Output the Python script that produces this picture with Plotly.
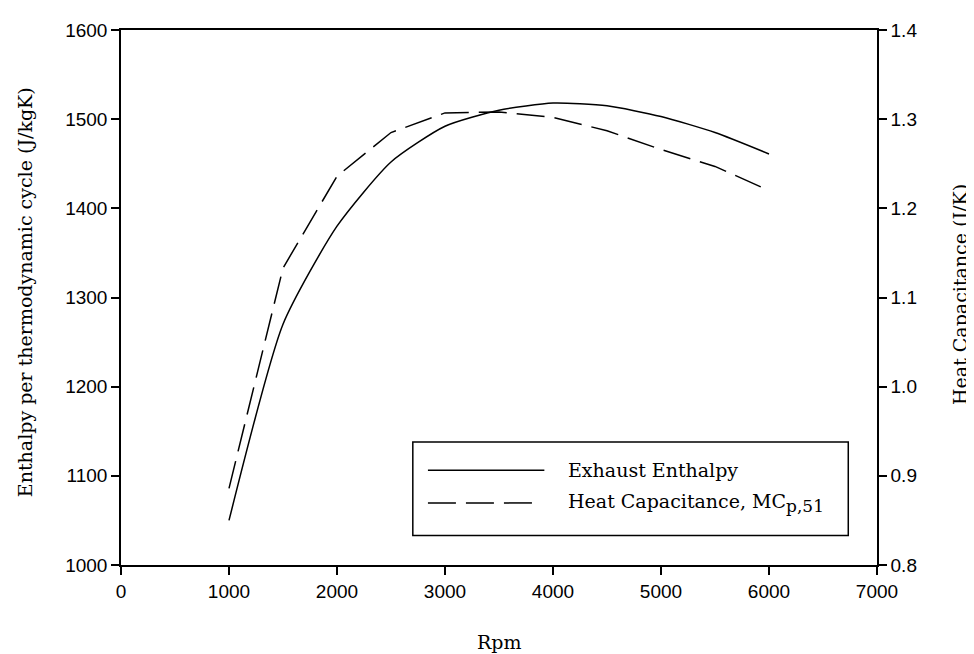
import plotly.graph_objects as go

rpm = [1000, 1500, 2000, 2500, 3000, 3500, 4000, 4500, 5000, 5500, 6000]
exhaust_enthalpy = [1050, 1270, 1380, 1452, 1492, 1510, 1518, 1515, 1503, 1485, 1461]
heat_capacitance = [0.886, 1.133, 1.236, 1.285, 1.307, 1.308, 1.302, 1.287, 1.266, 1.247, 1.220]

x_ticks = [0, 1000, 2000, 3000, 4000, 5000, 6000, 7000]
y_ticks = [1000, 1100, 1200, 1300, 1400, 1500, 1600]
y2_ticks = [0.8, 0.9, 1.0, 1.1, 1.2, 1.3, 1.4]

SERIF = "DejaVu Serif"
SANS = "Liberation Sans, Arial"

fig = go.Figure()
fig.add_trace(go.Scatter(x=rpm, y=exhaust_enthalpy, mode="lines", name="Exhaust Enthalpy",
                         line=dict(color="black", width=1.5, shape="spline", smoothing=0.6),
                         showlegend=False))
fig.add_trace(go.Scatter(x=rpm, y=heat_capacitance, mode="lines", yaxis="y2",
                         name="Heat Capacitance, MC<sub>p,51</sub>",
                         line=dict(color="black", width=1.5, dash="28px,10px"),
                         showlegend=False))

axis_common = dict(showline=True, linecolor="black", linewidth=1.5, ticks="outside",
                   ticklen=8, tickwidth=1.5, tickcolor="black", showgrid=False, zeroline=False,
                   tickfont=dict(family=SANS, size=19, color="black"))

fig.update_layout(
    width=966, height=646,
    margin=dict(l=113, r=97, t=13, b=89),
    paper_bgcolor="white", plot_bgcolor="white",
    xaxis=dict(range=[0, 7000], tickvals=x_ticks, mirror=True, **axis_common),
    yaxis=dict(range=[1000, 1600], tickvals=y_ticks, **axis_common),
    yaxis2=dict(range=[0.8, 1.4], tickvals=y2_ticks, tickformat=".1f", overlaying="y",
                side="right", **axis_common),
    showlegend=False,
)

text_font = dict(family=SERIF, size=19, color="black")
fig.add_annotation(text="Rpm", xref="paper", yref="paper", x=0.5, y=-0.143,
                   showarrow=False, font=text_font, yanchor="middle")
fig.add_annotation(text="Enthalpy per thermodynamic cycle (J/kgK)", xref="paper", yref="paper",
                   x=-0.127, y=0.51, textangle=-90, showarrow=False, font=text_font,
                   xanchor="center", yanchor="middle")
fig.add_annotation(text="Heat Capacitance (J/K)", xref="paper", yref="paper",
                   x=1.110, y=0.505, textangle=-90, showarrow=False, font=text_font,
                   xanchor="center", yanchor="middle")

# manual legend
lx0, lx1, ly0, ly1 = 0.386, 0.962, 0.055, 0.230
fig.add_shape(type="rect", xref="paper", yref="paper", x0=lx0, x1=lx1, y0=ly0, y1=ly1,
              line=dict(color="black", width=1.5), fillcolor="white", layer="above")
fig.add_shape(type="line", xref="paper", yref="paper", x0=0.406, x1=0.560, y0=0.177, y1=0.177,
              line=dict(color="black", width=1.5))
fig.add_shape(type="line", xref="paper", yref="paper", x0=0.406, x1=0.545, y0=0.116, y1=0.116,
              line=dict(color="black", width=1.5, dash="28px,10px"))
fig.add_annotation(text="Exhaust Enthalpy", xref="paper", yref="paper", x=0.588, y=0.177,
                   xanchor="left", yanchor="middle", showarrow=False, font=text_font)
fig.add_annotation(text="Heat Capacitance, MC<sub><span style='font-size:17px'>p,51</span></sub>",
                   xref="paper", yref="paper",
                   x=0.588, y=0.116, xanchor="left", yanchor="middle", showarrow=False,
                   font=text_font)

fig.write_html("out.html")
